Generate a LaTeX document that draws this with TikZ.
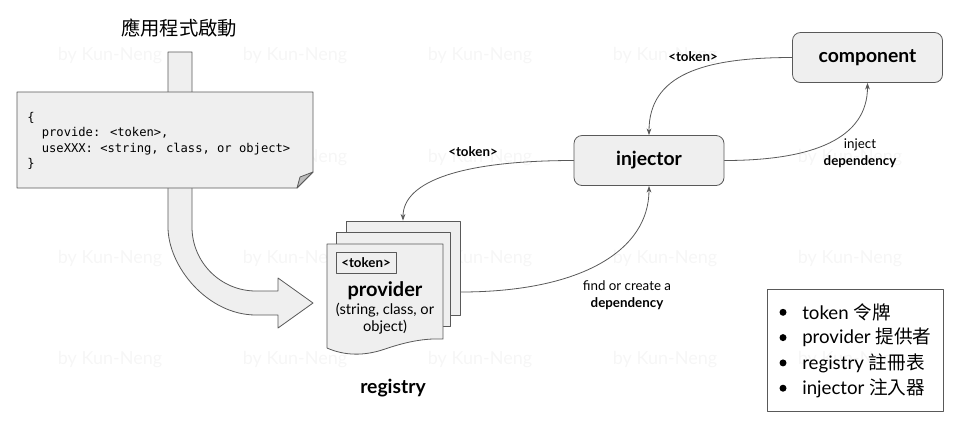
\documentclass[tikz,border=0pt]{standalone}
\usepackage{fontspec}
\setmainfont{Lato}
\newfontfamily\cjk{Noto Sans CJK TC}
\newfontfamily\codefont{DejaVu Sans Mono}
\usetikzlibrary{arrows.meta}
\definecolor{boxfill}{HTML}{EFEFEF}
\definecolor{linegray}{HTML}{595959}
\definecolor{foldgray}{HTML}{BDBDBD}
\definecolor{wmgray}{HTML}{F6F6F6}
\begin{document}
\begin{tikzpicture}[x=0.75pt, y=-0.75pt, line join=round, line cap=round, >={Stealth[length=5pt,width=3.6pt]},
  box/.style={draw=linegray, fill=boxfill, line width=0.6pt},
  rbox/.style={box, rounded corners=6pt, minimum width=112.5pt, minimum height=37.5pt, font=\fontsize{14.5}{17}\selectfont\bfseries},
  page/.style={box, minimum width=85.5pt, minimum height=70.5pt, inner sep=0pt},
  conn/.style={->, draw=linegray, line width=0.6pt},
  lbl/.style={font=\fontsize{10}{13}\selectfont, align=center},
  boldlbl/.style={font=\fontsize{10}{13}\selectfont\bfseries},
  item/.style={font=\fontsize{14}{16}\selectfont, anchor=west, inner sep=0pt},
  wmark/.style={text=wmgray, font=\fontsize{13.5}{16}\selectfont}]
\useasboundingbox (0,0) rectangle (960,430);
% watermark
\foreach \x in {110,295,480,665,850}
  \foreach \y in {56,158,259,360}
    \node[wmark] at (\x,\y) {by Kun-Neng};
\node[font=\cjk\fontsize{14.5}{17}\selectfont] (title) at (179,28) {應用程式啟動};
% startup arrow
\draw[box] (168,52)--(192,52)--(192,227) .. controls (192,262.3) and (220.7,291) .. (256,291)
  --(278,291)--(278,278)--(313,303)--(278,328)--(278,315)--(256,315)
  .. controls (207.4,315) and (168,266.4) .. (168,227)--cycle;
% note
\draw[box] (17,92)--(313,92)--(313,172)--(297,188)--(17,188)--cycle;
\draw[box, fill=foldgray] (313,172)--(300,177)--(297,188)--cycle;
\node[anchor=north west, inner sep=0pt, align=left, font=\codefont\fontsize{9.1}{11.6}\selectfont] (code) at (27,112)
  {\{\\\hphantom{xx}provide: <token>,\\\hphantom{xx}useXXX: <string, class, or object>\\\}};
% registry
\node[page] (regback) at (403,268) {};
\node[page] (regmid) at (393.5,279.5) {};
\draw[box] (327,244)--(443,244)--(443,339) .. controls (420,338) and (400,344) .. (385,349)
  .. controls (365,356) and (345,356) .. (327,348)--cycle;
\node[draw=linegray, line width=0.6pt, boldlbl, minimum width=45pt, minimum height=15.75pt, inner sep=1pt] (tok) at (366,262.5) {<token>};
\node[font=\fontsize{15}{18}\selectfont\bfseries] (prov) at (385,291) {provider};
\node[font=\fontsize{11}{12.75}\selectfont, align=center] (provtype) at (385,318.5) {(string, class, or\\object)};
\node[font=\fontsize{14.5}{17}\selectfont\bfseries] (reg) at (393,388) {registry};
% injector, component
\node[rbox] (inj) at (649,160.5) {injector};
\node[rbox] (comp) at (867.5,57.5) {component};
\draw[conn] (comp.west) .. controls +(-90,0) and +(0,-60) .. (inj.north);
\draw[conn] (inj.east) .. controls +(90,0) and +(0,55) .. (comp.south);
\draw[conn] (inj.west) .. controls +(-110,0) and +(0,-40) .. (regback.north);
\draw[conn] ([yshift=-18pt]regback.east) .. controls +(120,0) and +(0,65) .. (inj.south);
\node[boldlbl] (tokA) at (693,57) {<token>};
\node[boldlbl] (tokB) at (473,152) {<token>};
\node[lbl] (injdep) at (860,153) {inject\\\textbf{dependency}};
\node[lbl] (finddep) at (627,295) {find or create a\\\textbf{dependency}};
% legend
\node[draw=linegray, line width=0.6pt, minimum width=132pt, minimum height=91.5pt] (legend) at (855,350) {};
\foreach \txt [count=\i] in {token {\cjk 令牌}, provider {\cjk 提供者}, registry {\cjk 註冊表}, injector {\cjk 注入器}}{
  \fill (783,287+25.3*\i) circle (3.5);
  \node[item] (item\i) at (802,287+25.3*\i) {\txt};
}
\end{tikzpicture}
\end{document}
